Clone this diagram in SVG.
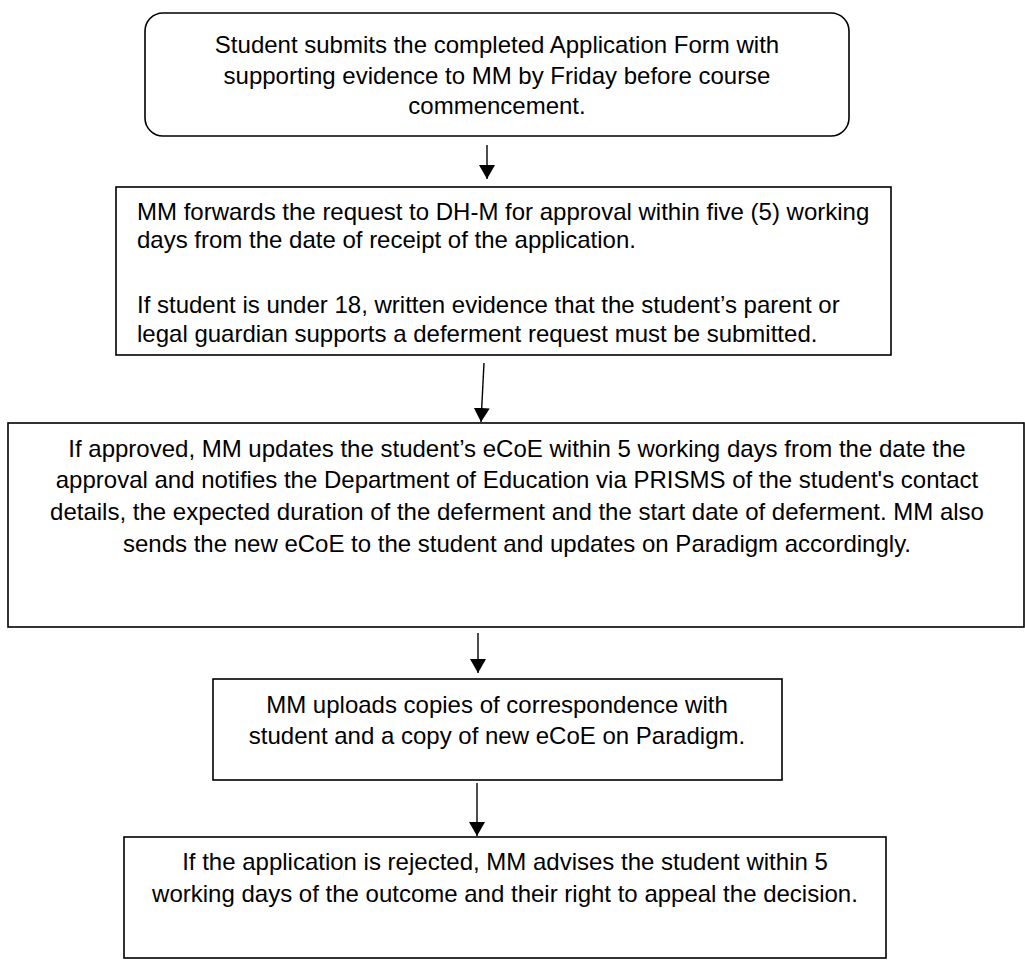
<svg xmlns="http://www.w3.org/2000/svg" width="1025" height="960" viewBox="0 0 1025 960">
  <style>
    .box { fill: #ffffff; stroke: #000000; stroke-width: 1.6; }
    .t { font-family: "Liberation Sans", Arial, sans-serif; font-size: 24px; fill: #000000; }
    .c { text-anchor: middle; }
    .conn { stroke: #000000; stroke-width: 1.4; fill: none; }
  </style>
  <defs>
    <marker id="arrow" viewBox="0 0 14 16" refX="14" refY="8" markerWidth="14" markerHeight="16" orient="auto" markerUnits="userSpaceOnUse">
      <path d="M0,0 L14,8 L0,16 z" fill="#000000"/>
    </marker>
  </defs>
  <rect x="0" y="0" width="1025" height="960" fill="#ffffff"/>

  <g id="node-submit">
    <rect class="box" x="145" y="13" width="704" height="123" rx="18" ry="18"/>
    <text class="t c" x="497" y="53">Student submits the completed Application Form with</text>
    <text class="t c" x="497" y="84">supporting evidence to MM by Friday before course</text>
    <text class="t c" x="497" y="114">commencement.</text>
  </g>

  <g id="node-forward">
    <rect class="box" x="116" y="187" width="775" height="168"/>
    <text class="t" x="137" y="220">MM forwards the request to DH-M for approval within five (5) working</text>
    <text class="t" x="137" y="248">days from the date of receipt of the application.</text>
    <text class="t" x="137" y="313">If student is under 18, written evidence that the student’s parent or</text>
    <text class="t" x="137" y="342">legal guardian supports a deferment request must be submitted.</text>
  </g>

  <g id="node-approved">
    <rect class="box" x="8" y="423" width="1016" height="204"/>
    <text class="t c" x="517" y="457">If approved, MM updates the student’s eCoE within 5 working days from the date the</text>
    <text class="t c" x="517" y="488">approval and notifies the Department of Education via PRISMS of the student's contact</text>
    <text class="t c" x="517" y="520">details, the expected duration of the deferment and the start date of deferment. MM also</text>
    <text class="t c" x="517" y="552">sends the new eCoE to the student and updates on Paradigm accordingly.</text>
  </g>

  <g id="node-upload">
    <rect class="box" x="213" y="679" width="569" height="101"/>
    <text class="t c" x="497" y="713">MM uploads copies of correspondence with</text>
    <text class="t c" x="497" y="744">student and a copy of new eCoE on Paradigm.</text>
  </g>

  <g id="node-rejected">
    <rect class="box" x="124" y="837" width="762" height="121"/>
    <text class="t c" x="505" y="870">If the application is rejected, MM advises the student within 5</text>
    <text class="t c" x="505" y="902">working days of the outcome and their right to appeal the decision.</text>
  </g>

  <g id="connectors">
    <line class="conn" x1="487" y1="145" x2="487" y2="179" marker-end="url(#arrow)"/>
    <line class="conn" x1="484" y1="363" x2="481" y2="422" marker-end="url(#arrow)"/>
    <line class="conn" x1="478" y1="633" x2="478" y2="673" marker-end="url(#arrow)"/>
    <line class="conn" x1="477" y1="783" x2="477" y2="836" marker-end="url(#arrow)"/>
  </g>
</svg>
